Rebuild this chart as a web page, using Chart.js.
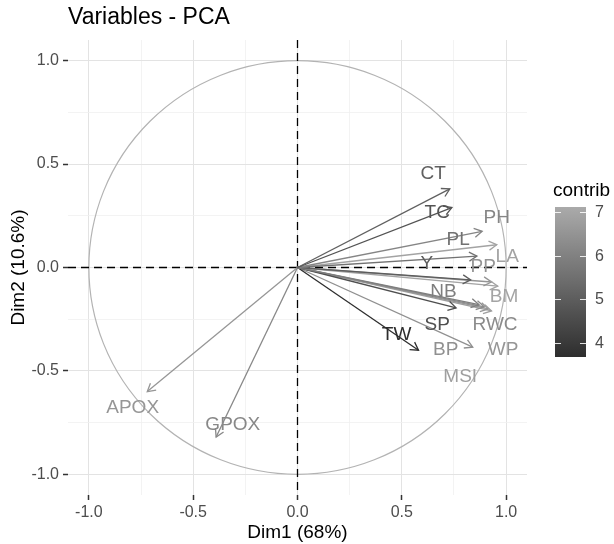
<!DOCTYPE html>
<html>
<head>
<meta charset="utf-8">
<script src="https://cdn.jsdelivr.net/npm/chart.js@4"></script>
<style>
html,body{margin:0;padding:0;background:#fff;}
canvas{display:block;}
</style>
</head>
<body>
<canvas id="c" width="614" height="544"></canvas>
<script>
// ---- data ----
const vars    = ['CT','TC','PH','PL','LA','Y','PP','NB','BM','SP','RWC','TW','BP','WP','MSI','APOX','GPOX'];
const dim1    = [0.73, 0.74, 0.885, 0.86, 0.955, 0.83, 0.93, 0.87, 0.96, 0.76, 0.895, 0.58, 0.84, 0.915, 0.93, -0.72, -0.39];
const dim2    = [0.38, 0.29, 0.175, 0.055, 0.11, -0.06, -0.07, -0.18, -0.09, -0.195, -0.19, -0.40, -0.385, -0.20, -0.21, -0.60, -0.82];
const contrib = [5.07, 4.72, 6.09, 5.56, 6.91, 5.00, 6.51, 5.90, 6.95, 4.61, 6.26, 3.71, 6.39, 6.56, 6.80, 6.57, 6.17];
const labX    = [0.65, 0.67, 0.955, 0.77, 1.005, 0.62, 0.89, 0.70, 0.99, 0.67, 0.947, 0.475, 0.71, 0.985, 0.78, -0.79, -0.31];
const labY    = [0.455, 0.266, 0.24, 0.135, 0.053, 0.02, 0.005, -0.115, -0.14, -0.275, -0.275, -0.324, -0.40, -0.40, -0.53, -0.676, -0.76];
const majorTicks  = [-1, -0.5, 0, 0.5, 1];
const minorTicks  = [-0.75, -0.25, 0.25, 0.75];
const legendTicks = [4, 5, 6, 7];
const contribRange = [3.68, 7.11];

const FONT = '"Liberation Sans", Arial, Helvetica, sans-serif';

function grayFor(c){
  const t = Math.max(0, Math.min(1, (c - contribRange[0]) / (contribRange[1] - contribRange[0])));
  const g = Math.round(45 + t * (170 - 45));
  return 'rgb(' + g + ',' + g + ',' + g + ')';
}

const datasets = vars.map((v, i) => ({
  label: v,
  data: [{x: 0, y: 0}, {x: dim1[i], y: dim2[i]}],
  showLine: true,
  borderColor: grayFor(contrib[i]),
  backgroundColor: grayFor(contrib[i]),
  borderWidth: 1.3,
  pointRadius: 0,
  pointHoverRadius: 0
}));

const allTicks = majorTicks.concat(minorTicks).sort((a,b)=>a-b);
function isMajor(v){ return majorTicks.some(m => Math.abs(m - v) < 1e-9); }

const gridOpts = {
  color: (ctx) => (ctx.tick && isMajor(ctx.tick.value)) ? '#e3e3e3' : '#f0f0f0',
  lineWidth: (ctx) => (ctx.tick && isMajor(ctx.tick.value)) ? 1 : 0.8,
  tickColor: (ctx) => (ctx.tick && isMajor(ctx.tick.value)) ? '#333333' : 'rgba(0,0,0,0)',
  tickLength: 5,
  tickWidth: 1.5,
  drawTicks: true
};

const decorPlugin = {
  id: 'decor',
  beforeDatasetsDraw(chart){
    const {ctx, chartArea, scales:{x, y}} = chart;
    const cx = x.getPixelForValue(0), cy = y.getPixelForValue(0);
    const rx = x.getPixelForValue(1) - cx, ry = cy - y.getPixelForValue(1);
    ctx.save();
    ctx.strokeStyle = '#b3b3b3';
    ctx.lineWidth = 1.2;
    ctx.beginPath();
    ctx.ellipse(cx, cy, rx, ry, 0, 0, Math.PI * 2);
    ctx.stroke();
    ctx.strokeStyle = '#000';
    ctx.lineWidth = 1.3;
    ctx.setLineDash([8, 5]);
    ctx.beginPath();
    ctx.moveTo(chartArea.left, cy); ctx.lineTo(chartArea.right, cy);
    ctx.moveTo(cx, chartArea.top); ctx.lineTo(cx, chartArea.bottom);
    ctx.stroke();
    ctx.restore();
  },
  afterDatasetsDraw(chart){
    const {ctx, scales:{x, y}} = chart;
    ctx.save();
    chart.data.datasets.forEach((ds, i) => {
      const pts = chart.getDatasetMeta(i).data;
      const p0 = pts[0], p1 = pts[1];
      const ang = Math.atan2(p1.y - p0.y, p1.x - p0.x);
      const L = 9, a = Math.PI / 6;
      ctx.strokeStyle = ds.borderColor;
      ctx.lineWidth = 1.3;
      ctx.beginPath();
      ctx.moveTo(p1.x - L * Math.cos(ang - a), p1.y - L * Math.sin(ang - a));
      ctx.lineTo(p1.x, p1.y);
      ctx.lineTo(p1.x - L * Math.cos(ang + a), p1.y - L * Math.sin(ang + a));
      ctx.stroke();
    });
    ctx.font = '19px ' + FONT;
    ctx.textAlign = 'center';
    ctx.textBaseline = 'middle';
    vars.forEach((v, i) => {
      ctx.fillStyle = grayFor(contrib[i]);
      ctx.fillText(v, x.getPixelForValue(labX[i]), y.getPixelForValue(labY[i]));
    });
    ctx.restore();
  },
  afterDraw(chart){
    const {ctx, chartArea} = chart;
    ctx.save();
    ctx.fillStyle = '#000';
    ctx.font = '23px ' + FONT;
    ctx.textAlign = 'left';
    ctx.textBaseline = 'middle';
    ctx.fillText('Variables - PCA', chartArea.left, 18);
    ctx.font = '19px ' + FONT;
    ctx.textAlign = 'center';
    ctx.fillText('Dim1 (68%)', (chartArea.left + chartArea.right) / 2, 533);
    ctx.save();
    ctx.translate(19, (chartArea.top + chartArea.bottom) / 2);
    ctx.rotate(-Math.PI / 2);
    ctx.fillText('Dim2 (10.6%)', 0, 0);
    ctx.restore();
    const bx = 555, bw = 31, btop = 207, bbot = 357;
    const vy = (v) => bbot - (v - contribRange[0]) / (contribRange[1] - contribRange[0]) * (bbot - btop);
    const grad = ctx.createLinearGradient(0, bbot, 0, btop);
    for (let k = 0; k <= 10; k++) {
      const v = contribRange[0] + k / 10 * (contribRange[1] - contribRange[0]);
      grad.addColorStop(k / 10, grayFor(v));
    }
    ctx.fillStyle = grad;
    ctx.fillRect(bx, btop, bw, bbot - btop);
    ctx.strokeStyle = 'rgba(255,255,255,0.85)';
    ctx.lineWidth = 1;
    ctx.font = '16px ' + FONT;
    ctx.textAlign = 'left';
    ctx.textBaseline = 'middle';
    legendTicks.forEach(t => {
      const yy = Math.round(vy(t)) + 0.5;
      ctx.beginPath();
      ctx.moveTo(bx, yy); ctx.lineTo(bx + 6, yy);
      ctx.moveTo(bx + bw - 6, yy); ctx.lineTo(bx + bw, yy);
      ctx.stroke();
      ctx.fillStyle = '#4d4d4d';
      ctx.fillText(String(t), 595, yy);
    });
    ctx.fillStyle = '#000';
    ctx.font = '19px ' + FONT;
    ctx.fillText('contrib', 553, 191);
    ctx.restore();
  }
};

new Chart(document.getElementById('c'), {
  type: 'scatter',
  data: { datasets },
  options: {
    responsive: false,
    devicePixelRatio: 1,
    animation: false,
    layout: { padding: { top: 40, right: 87, left: 0, bottom: 0 } },
    plugins: { legend: { display: false }, tooltip: { enabled: false }, title: { display: false } },
    scales: {
      x: {
        type: 'linear', position: 'bottom', min: -1.1, max: 1.1,
        afterBuildTicks: (s) => { s.ticks = allTicks.map(v => ({value: v})); },
        afterFit: (s) => { s.height = 49; },
        grid: gridOpts,
        border: { display: false },
        ticks: {
          color: '#4d4d4d', font: { size: 16, family: FONT }, padding: 3,
          autoSkip: false, maxRotation: 0,
          callback: (v) => isMajor(v) ? v.toFixed(1) : ''
        }
      },
      y: {
        type: 'linear', position: 'left', min: -1.1, max: 1.1,
        afterBuildTicks: (s) => { s.ticks = allTicks.map(v => ({value: v})); },
        afterFit: (s) => { s.width = 68; },
        grid: gridOpts,
        border: { display: false },
        ticks: {
          color: '#4d4d4d', font: { size: 16, family: FONT }, padding: 4,
          autoSkip: false,
          callback: (v) => isMajor(v) ? v.toFixed(1) : ''
        }
      }
    }
  },
  plugins: [decorPlugin]
});
</script>
</body>
</html>
